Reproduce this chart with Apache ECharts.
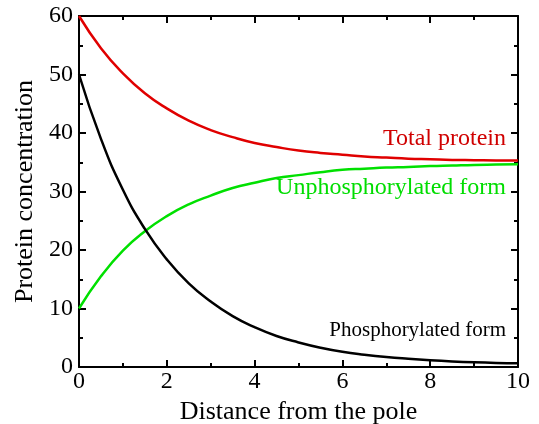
<!DOCTYPE html>
<html>
<head>
<meta charset="utf-8">
<script src="https://cdn.jsdelivr.net/npm/echarts@6/dist/echarts.min.js"></script>
<style>
  html, body { margin: 0; padding: 0; background: #fff; }
  #main { width: 539px; height: 424px; }
</style>
</head>
<body>
<div id="main"></div>
<script>
// distance from the pole
var distance = [0, 0.5, 1, 1.5, 2, 2.5, 3, 3.5, 4, 4.5, 5, 5.5, 6, 6.5, 7, 7.5, 8, 8.5, 9, 9.5, 10];
// values
var totalProtein = [60, 54.5, 50.2, 46.8, 44.2, 42.1, 40.5, 39.3, 38.3, 37.6, 37.0, 36.6, 36.3, 36.0, 35.8, 35.6, 35.5, 35.4, 35.35, 35.3, 35.3];
var unphosphorylated = [10, 15.5, 19.9, 23.2, 25.8, 27.8, 29.3, 30.6, 31.5, 32.3, 32.8, 33.3, 33.7, 33.9, 34.1, 34.2, 34.35, 34.45, 34.55, 34.6, 34.65];
var phosphorylated = [50, 39, 30.3, 23.6, 18.4, 14.3, 11.2, 8.7, 6.8, 5.3, 4.2, 3.3, 2.6, 2.1, 1.7, 1.4, 1.15, 0.95, 0.8, 0.7, 0.65];

var font = '"Liberation Serif", "DejaVu Serif", serif';

function pairs(ys) {
  return distance.map(function (x, i) { return [x, ys[i]]; });
}

function boxAxis(extra) {
  var base = {
    axisLine: { show: true, onZero: false, lineStyle: { color: '#000', width: 2 } },
    axisTick: { show: true, inside: true, length: 7, lineStyle: { color: '#000', width: 2 } },
    minorTick: { show: true, splitNumber: 2, length: 4, lineStyle: { color: '#000', width: 2 } },
    splitLine: { show: false },
    axisLabel: { show: false }
  };
  return Object.assign(base, extra);
}

var chart = echarts.init(document.getElementById('main'));
chart.setOption({
  animation: false,
  backgroundColor: '#fff',
  grid: { left: 79, right: 21, top: 16, bottom: 57, containLabel: false, outerBoundsMode: 'none' },
  xAxis: [
    boxAxis({
      type: 'value', min: 0, max: 10, interval: 2, position: 'bottom',
      axisLabel: { show: true, color: '#000', fontFamily: font, fontSize: 24, margin: 3 },
      name: 'Distance from the pole', nameLocation: 'middle', nameGap: 24,
      nameTextStyle: { color: '#000', fontFamily: font, fontSize: 26 }
    }),
    boxAxis({ type: 'value', min: 0, max: 10, interval: 2, position: 'top' })
  ],
  yAxis: [
    boxAxis({
      type: 'value', min: 0, max: 60, interval: 10, position: 'left',
      axisLabel: { show: true, color: '#000', fontFamily: font, fontSize: 24, margin: 6 },
      name: 'Protein concentration', nameLocation: 'middle', nameGap: 34,
      nameTextStyle: { color: '#000', fontFamily: font, fontSize: 26 }
    }),
    boxAxis({ type: 'value', min: 0, max: 60, interval: 10, position: 'right' })
  ],
  series: [
    {
      name: 'Total protein', type: 'line', smooth: true, showSymbol: false,
      data: pairs(totalProtein), lineStyle: { color: '#e00000', width: 2.5 }
    },
    {
      name: 'Unphosphorylated form', type: 'line', smooth: true, showSymbol: false,
      data: pairs(unphosphorylated), lineStyle: { color: '#00e000', width: 2.5 }
    },
    {
      name: 'Phosphorylated form', type: 'line', smooth: true, showSymbol: false,
      data: pairs(phosphorylated), lineStyle: { color: '#000', width: 2.5 }
    }
  ],
  graphic: [
    { type: 'text', right: 33, top: 127, style: { text: 'Total protein', fill: '#d00000', font: '24px ' + font } },
    { type: 'text', right: 33, top: 176, style: { text: 'Unphosphorylated form', fill: '#00dd00', font: '24px ' + font } },
    { type: 'text', right: 33, top: 320, style: { text: 'Phosphorylated form', fill: '#000', font: '21px ' + font } }
  ]
});
</script>
</body>
</html>
